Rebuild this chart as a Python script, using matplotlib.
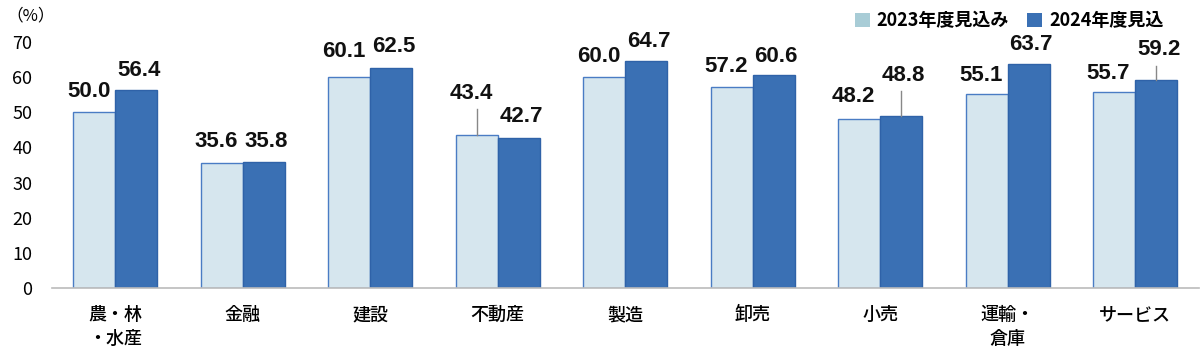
#!/usr/bin/env python3
import numpy as np
import matplotlib
matplotlib.use("Agg")
from matplotlib import pyplot as plt
from matplotlib.patches import Patch

categories = ["農・林\n・水産", "金融", "建設", "不動産", "製造", "卸売", "小売", "運輸・\n倉庫", "サービス"]
fy2023 = [50.0, 35.6, 60.1, 43.4, 60.0, 57.2, 48.2, 55.1, 55.7]
fy2024 = [56.4, 35.8, 62.5, 42.7, 64.7, 60.6, 48.8, 63.7, 59.2]
series_names = ["2023年度見込み", "2024年度見込"]

# where the value labels sit (layout, in axis units) and which get a leader line
lbl_y_2023 = [55.9, 41.8, 67.2, 55.4, 65.8, 63.0, 54.4, 60.6, 61.1]
lbl_y_2024 = [62.0, 41.8, 68.6, 48.7, 70.1, 65.8, 60.6, 69.2, 67.9]
leader_2023 = [0, 0, 0, 1, 0, 0, 0, 0, 0]
leader_2024 = [0, 0, 0, 0, 0, 0, 1, 0, 1]

plt.rcParams['font.family'] = ['Noto Sans CJK JP', 'DejaVu Sans']

light = "#D6E6EE"
light_edge = "#4A7CC4"
dark = "#3A70B4"
dark_edge = "#2F62A8"
legend_light = "#A8CCD6"

def main():
	fig = plt.figure(figsize=(12, 3.51), dpi=100)
	ax = fig.add_axes([0.043, 0.1795, 0.956, 0.751])
	x = np.arange(len(categories))
	w = 0.33
	ax.bar(x - w/2, fy2023, w, color=light, edgecolor=light_edge, linewidth=1.0)
	ax.bar(x + w/2, fy2024, w, color=dark, edgecolor=dark_edge, linewidth=1.0)

	for i in range(len(categories)):
		pairs = ((x[i] - w/2, -0.045, fy2023[i], lbl_y_2023[i], leader_2023[i]),
			(x[i] + w/2, 0.02, fy2024[i], lbl_y_2024[i], leader_2024[i]))
		for xx, dx, v, ly, ld in pairs:
			ax.text(xx + dx, ly, "%.1f" % v, ha='center', va='center', fontsize=16,
				fontweight='bold', family=['Liberation Sans', 'DejaVu Sans'], color='#111111')
			if ld:
				ax.plot([xx, xx], [v, ly - 4.6], color='#888888', lw=1.0)

	ax.set_xlim(-0.5, len(categories) - 0.5)
	ax.set_ylim(0, 75)
	ax.set_yticks(range(0, 80, 10))
	ax.set_xticks(x)
	ax.set_xticklabels(categories, fontsize=13, fontweight='medium', linespacing=1.45, va='top')
	ax.tick_params(axis='y', length=0, labelsize=13, pad=14)
	ax.tick_params(axis='x', length=0, pad=13)
	for s in ('top', 'right', 'left'):
		ax.spines[s].set_visible(False)
	ax.spines['bottom'].set_color('#BBBBBB')
	ax.spines['bottom'].set_linewidth(1.2)

	fig.text(0.005, 0.955, "（%）", fontsize=12, va='center', ha='left')

	handles = [Patch(facecolor=legend_light, edgecolor='none'), Patch(facecolor=dark, edgecolor='none')]
	fig.legend(handles, series_names, loc='upper right', bbox_to_anchor=(0.983, 1.015),
		ncol=2, frameon=False, handlelength=0.8, handleheight=0.8, handletextpad=0.4,
		columnspacing=1.0, prop={'size': 13, 'weight': 'bold', 'family': ['Noto Sans CJK JP', 'DejaVu Sans']})

	fig.savefig("out.png", dpi=100)

if __name__ == '__main__':
	main()
